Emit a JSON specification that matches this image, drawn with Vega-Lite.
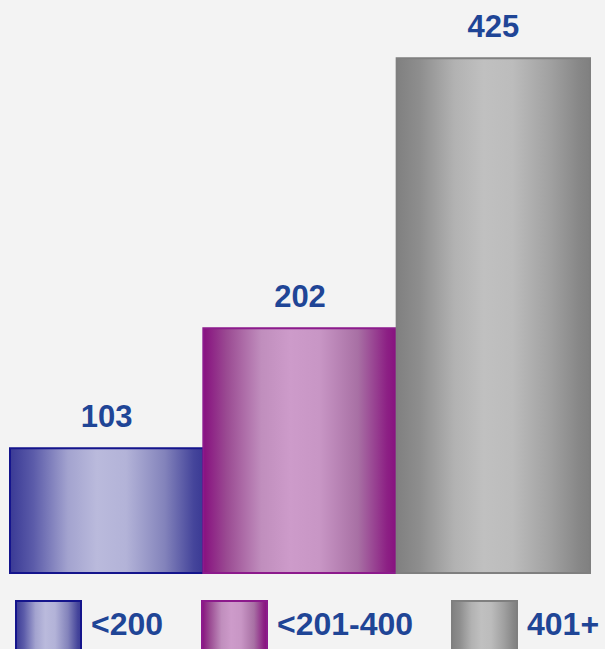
{
  "$schema": "https://vega.github.io/schema/vega-lite/v6.json",
  "width": 580,
  "height": 573,
  "autosize": "none",
  "padding": {"left": 10, "right": 15, "top": 0, "bottom": 76},
  "background": "#f3f3f3",
  "config": {"view": {"stroke": null}},
  "data": {
    "values": [
      {"cat": "<200", "value": 103},
      {"cat": "<201-400", "value": 202},
      {"cat": "401+", "value": 425}
    ]
  },
  "encoding": {
    "x": {
      "field": "cat", "type": "nominal", "sort": ["<200", "<201-400", "401+"],
      "scale": {"paddingInner": 0, "paddingOuter": 0},
      "axis": null
    },
    "y": {
      "field": "value", "type": "quantitative",
      "scale": {"domain": [0, 473], "nice": false},
      "axis": null
    }
  },
  "layer": [
    {
      "mark": {"type": "bar", "strokeWidth": 2, "opacity": 1},
      "encoding": {
        "color": {
          "field": "cat", "type": "nominal", "sort": ["<200", "<201-400", "401+"],
          "scale": {
            "range": [
              {"expr": "{gradient:'linear',x1:0,y1:0,x2:1,y2:0,stops:[{offset:0,color:'#3a3a95'},{offset:0.12,color:'#5b5ba9'},{offset:0.3,color:'#a3a3cf'},{offset:0.45,color:'#babadc'},{offset:0.6,color:'#b3b3d8'},{offset:0.8,color:'#8383bb'},{offset:0.95,color:'#45459b'},{offset:1,color:'#3a3a94'}]}"},
              {"expr": "{gradient:'linear',x1:0,y1:0,x2:1,y2:0,stops:[{offset:0,color:'#87107f'},{offset:0.12,color:'#9a4a92'},{offset:0.3,color:'#c08ebd'},{offset:0.45,color:'#cd9bca'},{offset:0.6,color:'#c896c5'},{offset:0.8,color:'#a870a4'},{offset:0.95,color:'#8c2084'},{offset:1,color:'#87107f'}]}"},
              {"expr": "{gradient:'linear',x1:0,y1:0,x2:1,y2:0,stops:[{offset:0,color:'#808080'},{offset:0.12,color:'#8e8e8e'},{offset:0.3,color:'#b2b2b2'},{offset:0.45,color:'#c0c0c0'},{offset:0.6,color:'#bcbcbc'},{offset:0.8,color:'#a0a0a0'},{offset:0.95,color:'#868686'},{offset:1,color:'#808080'}]}"}
            ]
          },
          "legend": {
            "orient": "none", "legendX": 5, "legendY": 600, "direction": "horizontal",
            "title": null, "padding": 0,
            "symbolType": "square", "symbolSize": 4225, "symbolStrokeWidth": 2, "symbolOpacity": 1,
            "labelFont": "Liberation Sans", "labelFontSize": 32, "labelFontWeight": "bold",
            "labelColor": "#1f4596", "labelOffset": 9, "columnPadding": 34, "labelLimit": 300,
            "encode": {
              "symbols": {"update": {"stroke": {"scale": "stroke", "field": "value"}}},
              "labels": {"update": {"dy": {"value": -9}}}
            }
          }
        },
        "stroke": {
          "field": "cat", "type": "nominal", "sort": ["<200", "<201-400", "401+"],
          "scale": {"range": ["#14148c", "#8c1a8c", "#7f7f7f"]},
          "legend": null
        }
      }
    },
    {
      "mark": {
        "type": "text", "baseline": "alphabetic", "dy": -21,
        "font": "Liberation Sans", "fontSize": 31, "fontWeight": "bold", "color": "#1f4596"
      },
      "encoding": {"text": {"field": "value", "type": "quantitative"}}
    }
  ]
}
